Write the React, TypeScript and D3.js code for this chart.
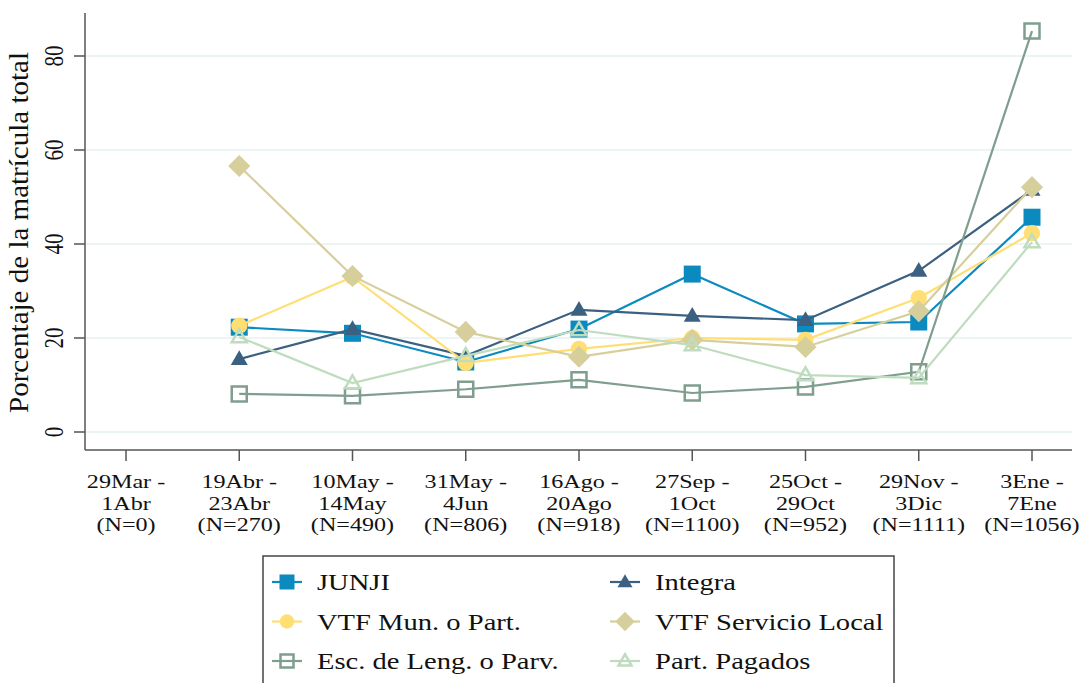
import React from "react";
import * as d3 from "d3";

const categories = ["29Mar-1Abr", "19Abr-23Abr", "10May-14May", "31May-4Jun", "16Ago-20Ago", "27Sep-1Oct", "25Oct-29Oct", "29Nov-3Dic", "3Ene-7Ene"];
const tickLines = [
  ["29Mar -", "1Abr", "(N=0)"],
  ["19Abr -", "23Abr", "(N=270)"],
  ["10May -", "14May", "(N=490)"],
  ["31May -", "4Jun", "(N=806)"],
  ["16Ago -", "20Ago", "(N=918)"],
  ["27Sep -", "1Oct", "(N=1100)"],
  ["25Oct -", "29Oct", "(N=952)"],
  ["29Nov -", "3Dic", "(N=1111)"],
  ["3Ene -", "7Ene", "(N=1056)"],
];
const yTicks = [0, 20, 40, 60, 80];

const junji = [null, 22.3, 21.0, 14.9, 21.9, 33.6, 23.0, 23.4, 45.7];
const integra = [null, 15.5, 21.9, 16.2, 26.0, 24.7, 23.8, 34.3, 51.5];
const vtfMun = [null, 22.6, 33.0, 14.7, 17.7, 20.0, 19.6, 28.5, 42.3];
const vtfLocal = [null, 56.6, 33.2, 21.3, 16.0, 19.6, 18.1, 25.7, 52.1];
const escLeng = [null, 8.1, 7.7, 9.1, 11.1, 8.3, 9.6, 12.8, 85.3];
const partPagados = [null, 20.2, 10.4, 16.2, 21.7, 18.5, 12.1, 11.5, 40.4];

type Shape = "square" | "triangle" | "circle" | "diamond" | "hsquare" | "htriangle";
const series: { name: string; values: (number | null)[]; color: string; shape: Shape }[] = [
  { name: "JUNJI", values: junji, color: "#0b8ac0", shape: "square" },
  { name: "Integra", values: integra, color: "#3b6080", shape: "triangle" },
  { name: "VTF Mun. o Part.", values: vtfMun, color: "#ffdf74", shape: "circle" },
  { name: "VTF Servicio Local", values: vtfLocal, color: "#d6cf9c", shape: "diamond" },
  { name: "Esc. de Leng. o Parv.", values: escLeng, color: "#7f9e8e", shape: "hsquare" },
  { name: "Part. Pagados", values: partPagados, color: "#bfdcbf", shape: "htriangle" },
];

const FONT = "'Liberation Serif', 'Times New Roman', serif";
const SX = 1.27;

function markerPath(shape: Shape, s: number): string {
  const h = s / 2;
  switch (shape) {
    case "square":
    case "hsquare":
      return `M${-h},${-h}H${h}V${h}H${-h}Z`;
    case "triangle":
    case "htriangle": {
      const th = s * 0.87;
      return `M0,${-th * 0.6}L${h},${th * 0.4}L${-h},${th * 0.4}Z`;
    }
    case "diamond": {
      const d = s * 0.65;
      return `M0,${-d}L${d},0L0,${d}L${-d},0Z`;
    }
    case "circle":
    default: {
      const r = s * 0.48;
      return `M${-r},0A${r},${r} 0 1,0 ${r},0A${r},${r} 0 1,0 ${-r},0Z`;
    }
  }
}

function Marker({ shape, color, x, y, size }: { shape: Shape; color: string; x: number; y: number; size: number }) {
  const hollow = shape === "hsquare" || shape === "htriangle";
  const s = hollow ? size - 2 : size;
  return (
    <path
      d={markerPath(shape, s)}
      transform={`translate(${x},${y})`}
      fill={hollow ? "none" : color}
      stroke={color}
      strokeWidth={hollow ? 2.5 : 0}
    />
  );
}

export default function App() {
  const W = 1079, H = 683;
  const left = 85, top = 13, bottom = 450, right = 1072;
  const x = d3.scalePoint<string>().domain(categories).range([126, 1032]);
  const y = d3.scaleLinear().domain([0, 80]).range([432, 56]);
  const line = d3
    .line<number | null>()
    .defined((d) => d !== null)
    .x((_, i) => x(categories[i]) as number)
    .y((d) => y(d as number));

  const legendCols = [287, 625];
  const legendRows = [590, 629.5, 669];

  return (
    <svg width={W} height={H} style={{ position: "absolute", left: 0, top: 0, background: "#fff" }}>
      <rect x={0} y={0} width={W} height={H} fill="#fff" />
      {yTicks.map((t) => (
        <line key={"g" + t} x1={left} x2={right} y1={y(t)} y2={y(t)} stroke="#e7f0f1" strokeWidth={1.5} />
      ))}
      {/* axes */}
      <line x1={left} x2={left} y1={top} y2={bottom} stroke="#555" strokeWidth={1.5} />
      <line x1={left} x2={right} y1={bottom} y2={bottom} stroke="#555" strokeWidth={1.5} />
      {yTicks.map((t) => (
        <g key={"yt" + t}>
          <line x1={left - 11} x2={left} y1={y(t)} y2={y(t)} stroke="#555" strokeWidth={1.5} />
          <text
            transform={`translate(63,${y(t)}) scale(${SX},1) rotate(-90)`}
            textAnchor="middle"
            fontFamily={FONT}
            fontSize={21}
            fill="#111"
          >
            {t}
          </text>
        </g>
      ))}
      <text
        transform={`translate(28,232.5) scale(${SX},1) rotate(-90)`}
        textAnchor="middle"
        fontFamily={FONT}
        fontSize={21}
        textLength={361}
        lengthAdjust="spacingAndGlyphs"
        fill="#111"
      >
        Porcentaje de la matrícula total
      </text>
      {categories.map((c, i) => (
        <g key={"xt" + c}>
          <line x1={x(c)} x2={x(c)} y1={bottom} y2={bottom + 11} stroke="#555" strokeWidth={1.5} />
          {tickLines[i].map((l, j) => (
            <text
              key={j}
              transform={`translate(${x(c)},${488 + j * 21.5}) scale(${SX},1)`}
              textAnchor="middle"
              fontFamily={FONT}
              fontSize={19}
              fill="#111"
            >
              {l}
            </text>
          ))}
        </g>
      ))}
      {series.map((s) => (
        <g key={s.name}>
          <path d={line(s.values) || ""} fill="none" stroke={s.color} strokeWidth={2.2} />
          {s.values.map((v, i) =>
            v === null ? null : (
              <Marker key={i} shape={s.shape} color={s.color} x={x(categories[i]) as number} y={y(v)} size={17} />
            )
          )}
        </g>
      ))}
      {/* legend */}
      <rect x={263} y={556} width={631} height={140} fill="#fff" stroke="#444" strokeWidth={1.5} />
      {series.map((s, i) => {
        const cx = legendCols[i % 2];
        const by = legendRows[Math.floor(i / 2)];
        const my = by - 8;
        return (
          <g key={"lg" + s.name}>
            <line x1={cx - 15} x2={cx + 15} y1={my} y2={my} stroke={s.color} strokeWidth={2.2} />
            <Marker shape={s.shape} color={s.color} x={cx} y={my} size={15} />
            <text
              transform={`translate(${cx + 30},${by}) scale(${SX},1)`}
              fontFamily={FONT}
              fontSize={22.5}
              fill="#111"
            >
              {s.name}
            </text>
          </g>
        );
      })}
    </svg>
  );
}
